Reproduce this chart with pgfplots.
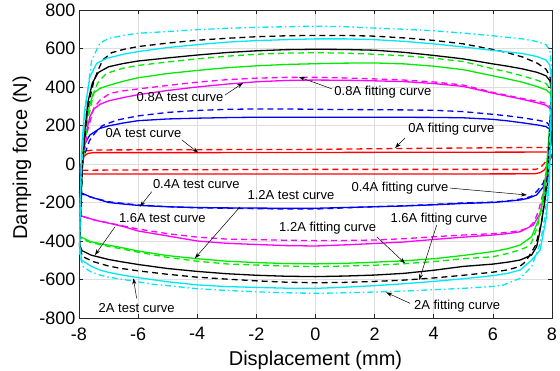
\documentclass[border=0pt]{standalone}
\usepackage{pgfplots}
\pgfplotsset{compat=1.18}
\usepackage{fontspec}
\setmainfont{Liberation Sans}
\usetikzlibrary{arrows.meta}
\definecolor{mcyan}{RGB}{0,232,245}
\definecolor{mgreen}{RGB}{0,235,0}
\definecolor{mmag}{RGB}{255,0,255}
\definecolor{mblue}{RGB}{0,0,255}
\definecolor{mred}{RGB}{255,0,0}
\begin{document}
\begin{tikzpicture}
\path[use as bounding box] (-79pt,-52pt) rectangle (481pt,318pt);
\begin{axis}[
  at={(0,0)}, anchor=south west,
  scale only axis, width=473pt, height=308pt,
  xmin=-8, xmax=8, ymin=-800, ymax=800,
  xtick={-8,-6,...,8}, ytick={-800,-600,...,800},
  grid=major, major grid style={black!13, line width=0.6pt},
  tick align=inside, major tick length=4pt,
  axis line style={line width=0.7pt, black!85},
  tick style={black!85, line width=0.6pt},
  ticklabel style={font=\fontsize{18}{20}\selectfont},
  xticklabel style={yshift=-6pt},
  /pgf/number format/assume math mode=true,
  xlabel={Displacement (mm)}, ylabel={Damping force (N)},
  every axis x label/.style={at={(axis description cs:0.5,0)}, yshift=-42pt, anchor=center, font=\fontsize{20}{22}\selectfont},
  every axis y label/.style={at={(axis description cs:0,0.52)}, xshift=-57pt, rotate=90, anchor=center, font=\fontsize{20}{22}\selectfont},
  clip=true,
  every axis plot/.append style={line width=1.3pt, line join=round},
]
% 0A
\addplot[mred] coordinates {(-7.98,-45) (-7.85,38) (-7.7,55) (-7.5,59) (-4,59) (0,60) (4,61) (7.85,62) (7.95,55) (7.99,40) (7.9,10) (7.75,-30) (7.6,-45) (7.4,-51) (4,-52) (0,-52) (-4,-52) (-7.9,-52) (-7.98,-45)};
\addplot[mred, dash pattern=on 6pt off 4pt] coordinates {(-7.98,-28) (-7.88,40) (-7.75,68) (-7.5,73) (-5,74) (0,76) (2.5,80) (5,83) (7.5,86) (7.9,86) (7.96,75) (7.99,60) (7.9,40) (7.75,5) (7.6,-20) (7.45,-28) (5,-28) (0,-28) (-5,-30) (-7.5,-32) (-7.9,-33) (-7.98,-28)};
% 0.4A
\addplot[mblue] coordinates {(-7.98,-140) (-7.9,20) (-7.8,107) (-7.63,151) (-7.29,185) (-7,198) (-6.5,213) (-6,225) (-5,234) (-4,238) (-3,241) (-2,243) (0,243) (2,243) (4,242) (5,240) (6,232) (6.5,224) (7,214) (7.5,203) (7.8,194) (7.93,180) (7.99,150) (7.88,-14) (7.71,-118) (7.48,-161) (7.2,-178) (6.92,-187) (6,-200) (5,-205) (4,-212) (3,-218) (2,-222) (1,-226) (0,-230) (-1,-230) (-2,-229) (-3,-228) (-4,-226) (-5,-222) (-6,-215) (-6.5,-208) (-7,-200) (-7.63,-170) (-7.92,-150) (-7.98,-140)};
\addplot[mblue, dash pattern=on 6pt off 4pt] coordinates {(-7.98,-150) (-7.85,30) (-7.65,120) (-7.46,161) (-7.2,200) (-6.72,228) (-6,250) (-5,268) (-4,278) (-3,284) (-2,286) (-1,286) (0,284) (1,283) (2,282) (3,281) (4,279) (5,272) (6,258) (6.5,250) (7,240) (7.5,228) (7.8,218) (7.93,200) (7.99,170) (7.9,0) (7.7,-100) (7.5,-140) (7.3,-168) (7.03,-180) (6.5,-192) (6,-198) (5,-202) (4,-210) (3,-217) (2,-222) (1,-228) (0,-234) (-1,-234) (-2,-232) (-3,-230) (-4,-228) (-5,-222) (-6,-213) (-7,-196) (-7.6,-172) (-7.92,-155) (-7.98,-150)};
% 0.8A
\addplot[mmag] coordinates {(-7.98,-260) (-7.9,0) (-7.78,150) (-7.63,246) (-7.5,285) (-7.29,310) (-7,328) (-6.5,345) (-6,360) (-5,382) (-4,400) (-3,415) (-2,427) (-1,434) (0,436) (1,435) (2,432) (3,428) (4,418) (5,403) (6,368) (6.5,352) (7,336) (7.5,318) (7.8,305) (7.93,290) (7.99,250) (7.9,-5) (7.71,-170) (7.6,-256) (7.37,-317) (6.92,-352) (6.5,-362) (6,-369) (5,-380) (4,-392) (3,-405) (2,-413) (1,-420) (0,-426) (-1,-424) (-2,-418) (-3,-412) (-4,-400) (-5,-374) (-6,-348) (-6.5,-325) (-7,-307) (-7.5,-290) (-7.95,-268) (-7.98,-260)};
\addplot[mmag, dash pattern=on 6pt off 4pt] coordinates {(-7.98,-250) (-7.88,0) (-7.7,180) (-7.5,290) (-7.29,332) (-6.95,367) (-6.5,380) (-6,390) (-5,408) (-4,425) (-3,438) (-2,446) (-1,450) (0,450) (1,447) (2,442) (3,436) (4,426) (5,410) (6,372) (6.5,356) (7,340) (7.5,326) (7.8,315) (7.93,300) (7.99,260) (7.88,0) (7.7,-150) (7.55,-240) (7.4,-300) (7.2,-332) (6.92,-346) (6.5,-355) (6,-362) (5,-369) (4,-378) (3,-388) (2,-395) (1,-397) (0,-398) (-1,-396) (-2,-393) (-3,-390) (-4,-380) (-5,-362) (-6,-338) (-6.5,-322) (-7,-306) (-7.5,-290) (-7.9,-272) (-7.98,-250)};
% 1.2A
\addplot[mgreen] coordinates {(-7.98,-360) (-7.9,0) (-7.8,180) (-7.65,300) (-7.52,367) (-7.29,393) (-7,408) (-6.5,430) (-6,448) (-5,470) (-4,486) (-3,500) (-2,510) (-1,517) (0,521) (1,524) (2,525) (3,520) (4,508) (5,490) (6,458) (6.5,442) (7,425) (7.5,402) (7.8,385) (7.94,367) (7.99,330) (7.8,-42) (7.65,-222) (7.54,-291) (7.31,-378) (6.92,-421) (6.5,-440) (6,-455) (5,-475) (4,-492) (3,-503) (2,-510) (1,-516) (0,-519) (-1,-517) (-2,-512) (-3,-505) (-4,-492) (-5,-476) (-6,-452) (-6.6,-433) (-7,-422) (-7.6,-404) (-7.95,-378) (-7.98,-360)};
\addplot[mgreen, dash pattern=on 6pt off 4pt] coordinates {(-7.98,-370) (-7.88,0) (-7.7,230) (-7.5,370) (-7.37,420) (-7.2,450) (-7.06,471) (-6.5,498) (-6,512) (-5,530) (-4,546) (-3,560) (-2,570) (-1,576) (0,578) (1,576) (2,570) (3,562) (4,550) (5,532) (6,495) (6.5,478) (7,458) (7.5,435) (7.8,418) (7.93,392) (7.99,350) (7.85,0) (7.7,-200) (7.5,-330) (7.3,-410) (7.14,-432) (6.92,-446) (6.5,-465) (6,-482) (5,-492) (4,-507) (3,-518) (2,-526) (1,-530) (0,-533) (-1,-530) (-2,-525) (-3,-519) (-4,-505) (-5,-485) (-6,-458) (-6.6,-440) (-7,-428) (-7.6,-408) (-7.92,-388) (-7.98,-370)};
% 1.6A
\addplot[black] coordinates {(-7.98,-420) (-7.9,-50) (-7.8,180) (-7.7,320) (-7.55,420) (-7.35,475) (-7,505) (-6.5,522) (-6,535) (-5,551) (-4,566) (-3,579) (-2,588) (-1,594) (0,596) (1,595) (2,591) (3,580) (4,564) (5,546) (6,520) (6.5,508) (7,494) (7.5,476) (7.8,458) (7.93,432) (7.99,380) (7.85,-100) (7.73,-222) (7.6,-343) (7.48,-430) (7.31,-473) (6.92,-499) (6.5,-510) (6,-520) (5,-532) (4,-552) (3,-568) (2,-577) (1,-582) (0,-585) (-1,-583) (-2,-578) (-3,-570) (-4,-558) (-5,-543) (-6,-522) (-6.6,-507) (-7,-496) (-7.6,-473) (-7.9,-450) (-7.98,-420)};
\addplot[black, dash pattern=on 6pt off 4pt] coordinates {(-7.98,-430) (-7.88,0) (-7.72,280) (-7.5,430) (-7.36,485) (-7.2,540) (-6.9,578) (-6.5,595) (-6,610) (-5,628) (-4,643) (-3,653) (-2,661) (-1,666) (0,668) (1,668) (2,664) (3,655) (4,642) (5,624) (6,595) (6.5,578) (7,556) (7.5,524) (7.8,492) (7.93,455) (7.99,400) (7.85,-60) (7.65,-300) (7.45,-420) (7.3,-460) (7.2,-485) (7.05,-515) (6.9,-533) (6.5,-550) (6,-562) (5,-578) (4,-592) (3,-603) (2,-610) (1,-615) (0,-617) (-1,-614) (-2,-607) (-3,-598) (-4,-588) (-5,-573) (-6,-555) (-6.6,-542) (-7,-530) (-7.5,-508) (-7.88,-481) (-7.98,-430)};
% 2A
\addplot[mcyan] coordinates {(-7.98,-420) (-7.92,60) (-7.81,280) (-7.63,454) (-7.4,523) (-7.06,549) (-6.5,570) (-6,584) (-5,605) (-4,620) (-3,633) (-2,641) (-1,646) (0,650) (1,650) (2,646) (3,637) (4,624) (5,608) (6,590) (6.5,582) (7,574) (7.5,558) (7.8,540) (7.92,515) (7.99,440) (7.92,-66) (7.81,-277) (7.6,-447) (7.31,-499) (6.92,-551) (6.5,-568) (6,-580) (5,-596) (4,-610) (3,-622) (2,-632) (1,-640) (0,-646) (-1,-645) (-2,-641) (-3,-637) (-4,-628) (-5,-612) (-6,-590) (-6.5,-578) (-7,-563) (-7.29,-551) (-7.6,-530) (-7.91,-499) (-7.98,-420)};
\addplot[mcyan, dash pattern=on 6pt off 3pt on 1.5pt off 3pt] coordinates {(-7.98,-470) (-7.95,-150) (-7.85,150) (-7.75,330) (-7.57,540) (-7.29,628) (-7,652) (-6.5,668) (-6,679) (-5,688) (-4,698) (-3,705) (-2,710) (-1,713) (0,716) (1,713) (2,706) (3,700) (4,692) (5,680) (6,666) (6.5,658) (7,650) (7.5,636) (7.8,620) (7.93,590) (7.99,480) (7.88,-66) (7.76,-277) (7.6,-412) (7.31,-533) (6.92,-594) (6.35,-629) (6,-636) (5,-646) (4,-653) (3,-660) (2,-665) (1,-669) (0,-672) (-1,-669) (-2,-664) (-3,-657) (-4,-648) (-5,-632) (-5.5,-625) (-6,-612) (-6.5,-600) (-7,-588) (-7.29,-577) (-7.6,-560) (-7.86,-533) (-7.98,-470)};
% annotations
\tikzset{ann/.style={font=\fontsize{13}{15}\selectfont, inner sep=1pt}, arr/.style={-{Stealth[length=6pt,width=4pt]}, line width=0.5pt, black}}
\node[ann] at (axis cs:-4.58,350) {0.8A test curve};
\draw[arr] (axis cs:-3.06,358) -- (axis cs:-2.45,421);
\node[ann] at (axis cs:2.28,374) {0.8A fitting curve};
\draw[arr] (axis cs:0.56,390) -- (axis cs:-0.56,452);
\node[ann] at (axis cs:-5.82,161) {0A test curve};
\draw[arr] (axis cs:-4.52,125) -- (axis cs:-3.97,59);
\node[ann] at (axis cs:4.6,182) {0A fitting curve};
\draw[arr] (axis cs:3.03,135) -- (axis cs:2.69,83);
\node[ann] at (axis cs:-4.03,-104) {0.4A test curve};
\draw[arr] (axis cs:-5.54,-144) -- (axis cs:-5.94,-222);
\node[ann] at (axis cs:2.86,-125) {0.4A fitting curve};
\draw[arr] (axis cs:4.55,-125) -- (axis cs:7.15,-161);
\node[ann] at (axis cs:-0.83,-161) {1.2A test curve};
\draw[arr] (axis cs:-2.55,-222) -- (axis cs:-4.08,-490);
\node[ann] at (axis cs:-5.18,-281) {1.6A test curve};
\draw[arr] (axis cs:-6.78,-326) -- (axis cs:-7.46,-473);
\node[ann] at (axis cs:0.41,-332) {1.2A fitting curve};
\draw[arr] (axis cs:2.07,-378) -- (axis cs:3.03,-516);
\node[ann] at (axis cs:4.18,-286) {1.6A fitting curve};
\draw[arr] (axis cs:4.1,-317) -- (axis cs:3.51,-603);
\node[ann] at (axis cs:-6.05,-746) {2A test curve};
\draw[arr] (axis cs:-6.05,-698) -- (axis cs:-6.16,-594);
\node[ann] at (axis cs:4.79,-736) {2A fitting curve};
\draw[arr] (axis cs:3.2,-724) -- (axis cs:2.39,-667);
\end{axis}
\end{tikzpicture}
\end{document}
